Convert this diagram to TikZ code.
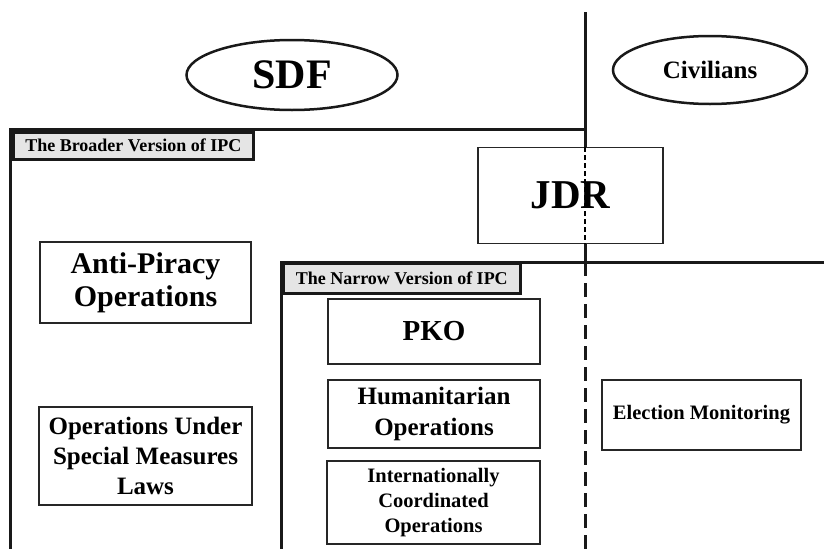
\documentclass[tikz,border=0pt]{standalone}
\usepackage{fontspec}
\setmainfont{Liberation Serif}
\usetikzlibrary{shapes.geometric}
\begin{document}
\begin{tikzpicture}[x=1pt,y=-1pt,
  thickline/.style={line width=3pt,draw=black!90},
  opbox/.style={draw=black!85,line width=1.3pt,align=center,font=\bfseries,inner sep=0pt},
  tagbox/.style={draw=black!90,line width=2.5pt,fill=black!10,font=\bfseries\fontsize{18}{20}\selectfont,inner sep=2pt,anchor=north west},
  oval/.style={ellipse,draw=black!90,line width=2.5pt,font=\bfseries,inner sep=0pt}]
\useasboundingbox (0,0) rectangle (824,549);
% ellipses
\node[oval,minimum width=211pt,minimum height=70pt,font=\bfseries\fontsize{42}{46}\selectfont] (sdf) at (292,75) {SDF};
\node[oval,minimum width=194pt,minimum height=68pt,font=\bfseries\fontsize{25}{28}\selectfont] (civ) at (710,70) {Civilians};
% JDR box
\node[opbox,minimum width=185pt,minimum height=96pt,font=\bfseries\fontsize{41}{44}\selectfont] (jdr) at (570.5,195.5) {JDR};
% vertical divider
\coordinate (vtop) at (585,12);
\coordinate (vmid) at (585,262);
\coordinate (vbot) at (585,549);
\draw[thickline] (vtop) -- (585,147);
\draw[line width=1.5pt,dashed,dash pattern=on 5pt off 3pt] (585,147) -- (585,244);
\draw[thickline] (585,244) -- (vmid);
\draw[thickline,dash pattern=on 14pt off 7pt] (vmid) -- (vbot);
% broader frame
\coordinate (b1) at (585,129);
\coordinate (b2) at (10,129);
\coordinate (b3) at (10,549);
\draw[thickline] (b1) -- (b2) -- (b3);
\node[tagbox,minimum width=240pt,minimum height=27pt] (btag) at (12,131) {The Broader Version of IPC};
% narrow frame
\coordinate (n1) at (824,262);
\coordinate (n2) at (281,262);
\coordinate (n3) at (281,549);
\draw[thickline] (n1) -- (n2) -- (n3);
\node[tagbox,minimum width=237pt,minimum height=30pt] (ntag) at (282,262) {The Narrow Version of IPC};
% operation boxes
\node[opbox,minimum width=211pt,minimum height=81pt,font=\bfseries\fontsize{30}{33}\selectfont] (anti) at (145.5,282.5) {Anti-Piracy\\Operations};
\node[opbox,minimum width=213pt,minimum height=98pt,font=\bfseries\fontsize{25}{30}\selectfont] (special) at (145.5,456) {Operations Under\\Special Measures\\Laws};
\node[opbox,minimum width=212pt,minimum height=65pt,font=\bfseries\fontsize{29}{32}\selectfont] (pko) at (434,331.5) {PKO};
\node[opbox,minimum width=212pt,minimum height=68pt,font=\bfseries\fontsize{25}{31}\selectfont] (hum) at (434,414) {Humanitarian\\Operations};
\node[opbox,minimum width=213pt,minimum height=83pt,font=\bfseries\fontsize{20.5}{25}\selectfont] (intl) at (433.5,502.5) {Internationally\\Coordinated\\Operations};
\node[opbox,minimum width=199pt,minimum height=70pt,font=\bfseries\fontsize{20.5}{24}\selectfont] (elec) at (701.5,415) {Election Monitoring};
\end{tikzpicture}
\end{document}
